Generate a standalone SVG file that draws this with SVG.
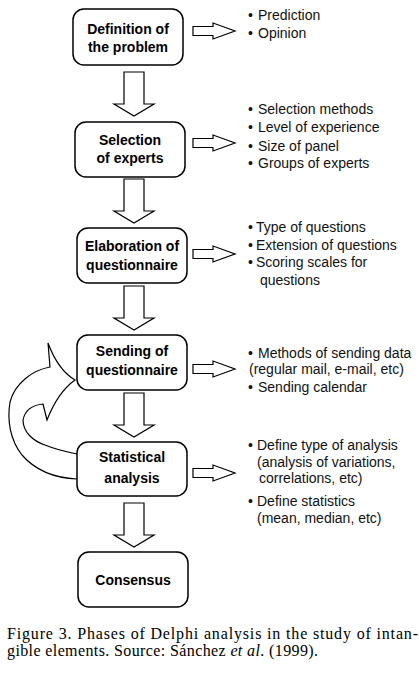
<svg xmlns="http://www.w3.org/2000/svg" width="419" height="674" viewBox="0 0 419 674">
<style>
.box{fill:#fff;stroke:#000;stroke-width:1.5}
.arr{fill:#fff;stroke:#000;stroke-width:1.2;stroke-linejoin:miter}
.bt{font-family:"Liberation Sans",Arial,sans-serif;font-size:14px;font-weight:bold;text-anchor:middle;fill:#000}
.li{font-family:"Liberation Sans",Arial,sans-serif;font-size:14px;fill:#111}
.cap{font-family:"Liberation Serif","Times New Roman",serif;font-size:16px;fill:#000}
</style>
<defs>
<path id="ra" d="M0 -4.5 H20 V-8 L42 0 L20 8 V4.5 H0 Z"/>
<path id="da" d="M-10 0 H10 V32 H20 L0 44 L-20 32 H-10 Z"/>
</defs>
<rect width="419" height="674" fill="#fff"/>
<g id="connectors">
<use href="#ra" x="193" y="31" class="arr"/>
<use href="#ra" x="193" y="143" class="arr"/>
<use href="#ra" x="193" y="254" class="arr"/>
<use href="#ra" x="193" y="369" class="arr"/>
<use href="#ra" x="193" y="473" class="arr"/>
<use href="#da" x="134" y="72" class="arr"/>
<use href="#da" x="134" y="179" class="arr"/>
<use href="#da" x="134" y="286" class="arr"/>
<use href="#da" x="134" y="393" class="arr"/>
<use href="#da" x="134" y="503" class="arr"/>
<path class="arr" d="M77 479 C55 478 35 470 22 455 C10 440 7 420 10 402 C15 383 33 370 50 367 L48 343 Q58 370 75 380 Q58 392 47 420 L43 404 C33 405 25 410 23 420 C23 432 33 441 45 445 C57 450 67 452 77 454"/>
</g>
<g id="n1"><rect class="box" x="73" y="9" width="110" height="56" rx="11"/><text class="bt" x="128" y="34">Definition of</text><text class="bt" x="128" y="52">the problem</text></g>
<g id="n2"><rect class="box" x="75" y="122" width="110" height="55" rx="11"/><text class="bt" x="130" y="145">Selection</text><text class="bt" x="130" y="163">of experts</text></g>
<g id="n3"><rect class="box" x="77" y="228" width="110" height="55" rx="11"/><text class="bt" x="132" y="251">Elaboration of</text><text class="bt" x="132" y="270">questionnaire</text></g>
<g id="n4"><rect class="box" x="77" y="335" width="110" height="55" rx="11"/><text class="bt" x="132" y="356">Sending of</text><text class="bt" x="132" y="375">questionnaire</text></g>
<g id="n5"><rect class="box" x="77" y="442" width="110" height="54" rx="11"/><text class="bt" x="132" y="462">Statistical</text><text class="bt" x="132" y="483">analysis</text></g>
<g id="n6"><rect class="box" x="78" y="552" width="110" height="55" rx="11"/><text class="bt" x="133" y="585">Consensus</text></g>
<g id="l1" class="li">
<text x="248" y="20">•<tspan x="258">Prediction</tspan></text>
<text x="248" y="38">•<tspan x="258">Opinion</tspan></text>
</g>
<g id="l2" class="li">
<text x="248" y="114">•<tspan x="258">Selection methods</tspan></text>
<text x="248" y="132">•<tspan x="258">Level of experience</tspan></text>
<text x="248" y="151">•<tspan x="258">Size of panel</tspan></text>
<text x="248" y="168">•<tspan x="258">Groups of experts</tspan></text>
</g>
<g id="l3" class="li">
<text x="248" y="232">•<tspan x="256">Type of questions</tspan></text>
<text x="248" y="250">•<tspan x="256">Extension of questions</tspan></text>
<text x="248" y="267">•<tspan x="256">Scoring scales for</tspan></text>
<text x="260" y="285">questions</text>
</g>
<g id="l4" class="li">
<text x="248" y="358">•<tspan x="258">Methods of sending data</tspan></text>
<text x="249" y="374">(regular mail, e-mail, etc)</text>
<text x="248" y="392">•<tspan x="258">Sending calendar</tspan></text>
</g>
<g id="l5" class="li">
<text x="248" y="450">•<tspan x="257">Define type of analysis</tspan></text>
<text x="257" y="467">(analysis of variations,</text>
<text x="259" y="483">correlations, etc)</text>
<text x="248" y="506">•<tspan x="257">Define statistics</tspan></text>
<text x="257" y="523">(mean, median, etc)</text>
</g>
<g id="caption" class="cap">
<text x="7" y="639" textLength="411" lengthAdjust="spacing">Figure 3. Phases of Delphi analysis in the study of intan-</text>
<text x="7" y="656" textLength="311" lengthAdjust="spacing">gible elements. Source: Sánchez <tspan font-style="italic">et al</tspan>. (1999).</text>
</g>
</svg>
